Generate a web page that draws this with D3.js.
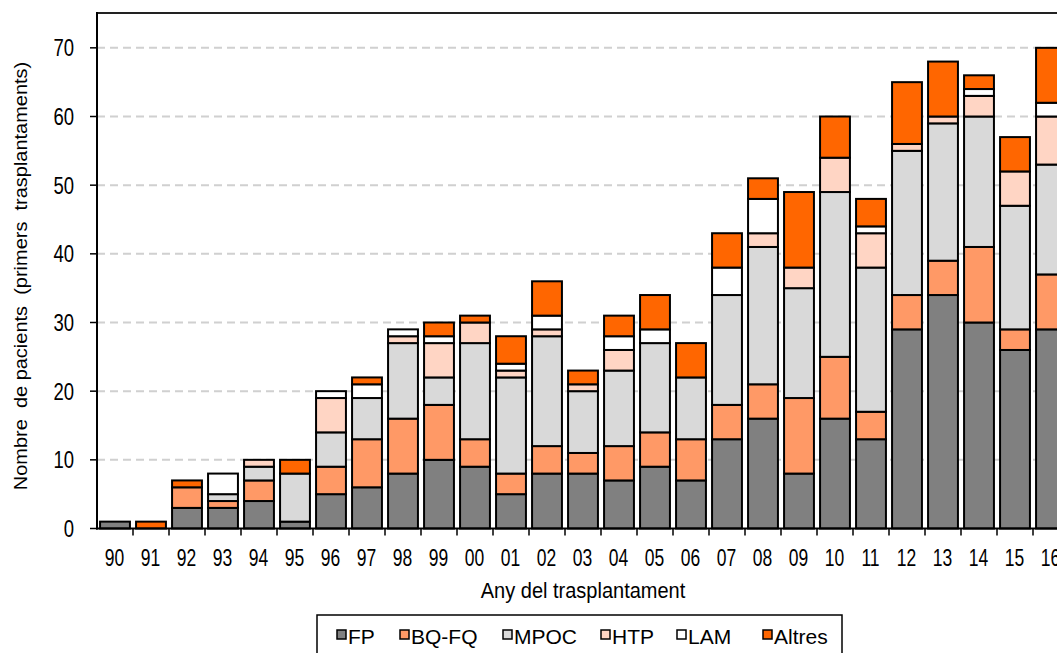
<!DOCTYPE html>
<html>
<head>
<meta charset="utf-8">
<script src="https://cdn.jsdelivr.net/npm/d3@7"></script>
<style>
  body { margin: 0; background: #fff; }
  text { font-family: "Liberation Sans", Arial, sans-serif; fill: #000; }
</style>
</head>
<body>
<div id="chart"></div>
<script>
// data
const years = ["90","91","92","93","94","95","96","97","98","99","00","01","02","03","04","05","06","07","08","09","10","11","12","13","14","15","16"];
const fp     = [1,0,3,3,4,1,5,6,8,10,9,5,8,8,7,9,7,13,16,8,16,13,29,34,30,26,29];
const bqfq   = [0,0,3,1,3,0,4,7,8,8,4,3,4,3,5,5,6,5,5,11,9,4,5,5,11,3,8];
const mpoc   = [0,0,0,1,2,7,5,6,11,4,14,14,16,9,11,13,9,16,20,16,24,21,21,20,19,18,16];
const htp    = [0,0,0,0,1,0,5,0,1,5,3,1,1,1,3,0,0,0,2,3,5,5,1,1,3,5,7];
const lam    = [0,0,0,3,0,0,1,2,1,1,0,1,2,0,2,2,0,4,5,0,0,1,0,0,1,0,2];
const altres = [0,1,1,0,0,2,0,1,0,2,1,4,5,2,3,5,5,5,3,11,6,4,9,8,2,5,8];

const keys = ["FP","BQ-FQ","MPOC","HTP","LAM","Altres"];
const colors = ["#808080","#ff9966","#d9d9d9","#ffd5c4","#ffffff","#ff6600"];
const yTicks = [0,10,20,30,40,50,60,70];

const width = 1057, height = 653;

const svg = d3.select("#chart").append("svg")
    .attr("width", width)
    .attr("height", height);

// table for d3.stack
const table = years.map((yr, i) => ({
    year: yr, "FP": fp[i], "BQ-FQ": bqfq[i], "MPOC": mpoc[i],
    "HTP": htp[i], "LAM": lam[i], "Altres": altres[i]
}));
const series = d3.stack().keys(keys)(table);

const x = d3.scaleBand()
    .domain(years)
    .range([97, 97 + 36 * years.length])
    .paddingInner(0.17)
    .paddingOuter(0.085);

const y = d3.scaleLinear()
    .domain([0, 75])
    .range([528.5, 13.5]);

const color = d3.scaleOrdinal().domain(keys).range(colors);

// stretched text like the original
function label(g, tx, ty, str, size, sy, anchor) {
    return g.append("text")
        .attr("transform", `translate(${tx},${ty}) scale(1,${sy})`)
        .attr("text-anchor", anchor)
        .style("font-size", size + "px")
        .text(str);
}

// grid lines
svg.append("g")
    .selectAll("line")
    .data(yTicks.filter(d => d > 0))
    .join("line")
    .attr("x1", 97).attr("x2", width)
    .attr("y1", d => y(d)).attr("y2", d => y(d))
    .attr("stroke", "#d0d0d0")
    .attr("stroke-width", 2)
    .attr("stroke-dasharray", "8,5");

// bars
svg.append("g")
    .selectAll("g")
    .data(series)
    .join("g")
    .attr("fill", d => color(d.key))
    .selectAll("rect")
    .data(d => d.filter(s => s[1] - s[0] > 0))
    .join("rect")
    .attr("x", d => x(d.data.year))
    .attr("y", d => y(d[1]))
    .attr("width", x.bandwidth())
    .attr("height", d => y(d[0]) - y(d[1]))
    .attr("stroke", "#000")
    .attr("stroke-width", 2);

// frame: top line and left axis
svg.append("line")
    .attr("x1", 97).attr("x2", width)
    .attr("y1", 13).attr("y2", 13)
    .attr("stroke", "#222").attr("stroke-width", 2);

svg.append("line")
    .attr("x1", 97).attr("x2", 97)
    .attr("y1", 12).attr("y2", 529.5)
    .attr("stroke", "#000").attr("stroke-width", 2);

svg.append("line")
    .attr("x1", 96).attr("x2", width)
    .attr("y1", y(0)).attr("y2", y(0))
    .attr("stroke", "#000").attr("stroke-width", 2);

// y ticks + labels
const gy = svg.append("g");
yTicks.forEach(t => {
    gy.append("line")
        .attr("x1", 90).attr("x2", 97)
        .attr("y1", y(t)).attr("y2", y(t))
        .attr("stroke", "#000").attr("stroke-width", 1.5);
    label(gy, 74, y(t) + 8.5, t, 18.5, 1.3, "end");
});

// x ticks on band edges + labels
const gx = svg.append("g");
years.forEach((yr, i) => {
    const edge = x(yr) - x.step() * x.paddingInner() / 2 + x.step();
    gx.append("line")
        .attr("x1", edge).attr("x2", edge)
        .attr("y1", y(0)).attr("y2", y(0) + 7)
        .attr("stroke", "#000").attr("stroke-width", 1.5);
    label(gx, x(yr) + x.bandwidth() / 2 - 0.5, 566, yr, 17.5, 1.35, "middle");
});

// axis titles
label(svg, 583, 598, "Any del trasplantament", 20, 1.1, "middle");

svg.append("text")
    .attr("transform", "translate(27,276) rotate(-90) scale(1.08,1)")
    .attr("text-anchor", "middle")
    .style("font-size", "18.5px")
    .style("white-space", "pre")
    .text("Nombre  de pacients  (primers  trasplantaments)");

// legend
const lg = svg.append("g");
lg.append("rect")
    .attr("x", 317).attr("y", 615)
    .attr("width", 525).attr("height", 60)
    .attr("fill", "#fff")
    .attr("stroke", "#000").attr("stroke-width", 1.5);

const legendX = [337, 400, 503, 601, 677, 763];
keys.forEach((k, i) => {
    lg.append("rect")
        .attr("x", legendX[i]).attr("y", 630)
        .attr("width", 9).attr("height", 9)
        .attr("fill", color(k))
        .attr("stroke", "#000").attr("stroke-width", 1.5);
    lg.append("text")
        .attr("x", legendX[i] + 11).attr("y", 644)
        .style("font-size", "21px")
        .text(k);
});
</script>
</body>
</html>
